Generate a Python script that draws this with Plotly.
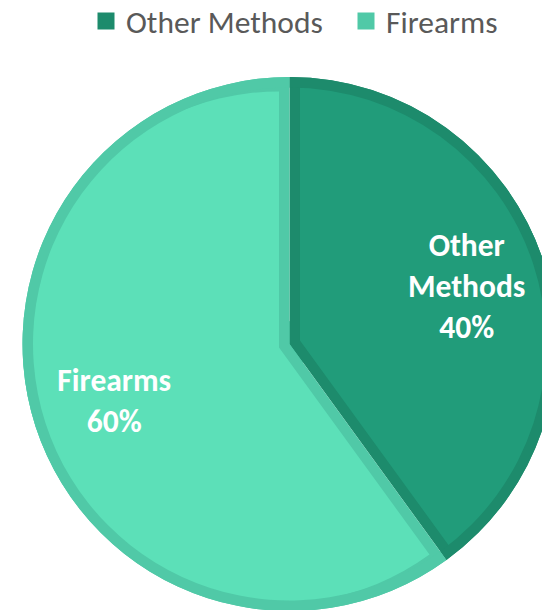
import plotly.graph_objects as go

# ---- data ----
labels = ["Other Methods", "Firearms"]
values = [40, 60]

# ---- style ----
fill_colors = ["#219c7a", "#5ce0b8"]
border_colors = ["#1d8b6c", "#50c9a7"]
FONT = "Carlito, Calibri, Lato, sans-serif"

OFF = 6                    # page is shifted up by this many px (legend sits higher)
W, H = 560, 626            # figure larger than the 542x610 window; overflow hidden
CX, CY, R = 289.5, 344.0 + OFF, 267.0   # pie centre / radius in pixels
T = 10.5                   # inner border thickness
S = 256.0                  # radius of pulled inner fill slices
D = T / 0.9511             # apex shift of inset slices
TP = 0.6                   # pull of the (transparent) label layer
TA = 268.0                 # half-size of label layer domain

def dom(cx, cy, r):
    return dict(x=[(cx - r) / W, (cx + r) / W],
                y=[1 - (cy + r) / H, 1 - (cy - r) / H])

common = dict(sort=False, direction="clockwise", rotation=0,
              textinfo="none", hoverinfo="skip")

fig = go.Figure()
# legend carriers (hidden under the pie), one legend per label
for i, lg in enumerate(["legend", "legend2"]):
    fig.add_trace(go.Pie(labels=labels[i:i + 1], values=values[i:i + 1], **common,
                         domain=dom(CX, CY, 20), showlegend=True, legend=lg,
                         marker=dict(colors=border_colors[i:i + 1],
                                     line=dict(color=border_colors[i:i + 1], width=5))))
# border-coloured full pie
fig.add_trace(go.Pie(labels=labels, values=values, **common, domain=dom(CX, CY, R),
                     showlegend=False,
                     marker=dict(colors=border_colors, line=dict(width=0))))
# inset fills (pulled slices)
fig.add_trace(go.Pie(labels=labels, values=values, **common, domain=dom(CX, CY, S + D),
                     showlegend=False, pull=[D / S, D / S],
                     marker=dict(colors=fill_colors, line=dict(width=0))))
# outer border ring
fig.add_trace(go.Pie(labels=labels, values=values, **common, domain=dom(CX, CY, R),
                     showlegend=False, hole=(R - T) / R,
                     marker=dict(colors=border_colors, line=dict(width=0))))
# labels
fig.add_trace(go.Pie(labels=labels, values=values, sort=False, direction="clockwise",
                     rotation=0, domain=dom(CX, CY, TA), showlegend=False,
                     hoverinfo="skip", pull=[TP, TP],
                     text=[l.replace(" ", "<br>") for l in labels],
                     texttemplate="%{text}<br>%{percent:.0%}",
                     textposition="inside", insidetextorientation="horizontal",
                     textfont=dict(family=FONT, size=31.5, color="white", weight="bold"),
                     marker=dict(colors=["rgba(0,0,0,0)"] * 2, line=dict(width=0))))

leg_common = dict(orientation="h", xanchor="left", y=1.0, yanchor="top",
                  font=dict(family=FONT, size=31.5, color="#595959"),
                  bgcolor="rgba(0,0,0,0)", itemclick=False, itemdoubleclick=False)

fig.update_layout(
    width=W, height=H,
    margin=dict(l=0, r=0, t=0, b=0),
    paper_bgcolor="white", plot_bgcolor="white",
    uniformtext=dict(minsize=31.5, mode="show"),
    legend=dict(x=86 / W, **leg_common),
    legend2=dict(x=346 / W, **leg_common),
)

fig.write_html("out.html", config={"displayModeBar": False},
               post_script="document.body.style.margin='0';"
                           "document.body.style.marginTop='-%dpx';"
                           "document.body.style.overflow='hidden';" % OFF)
